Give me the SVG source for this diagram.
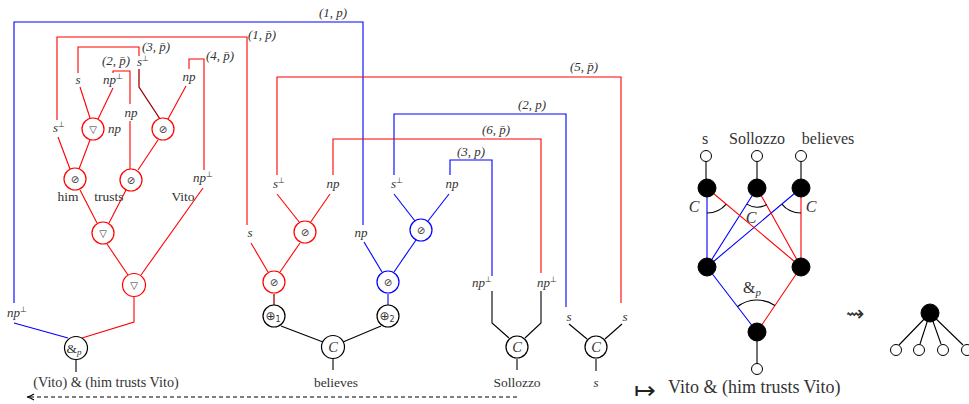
<svg xmlns="http://www.w3.org/2000/svg" width="969" height="404" viewBox="0 0 969 404">
<style>
.r{stroke:#f00;fill:none;stroke-width:1.1}
.b{stroke:#00f;fill:none;stroke-width:1.1}
.k{stroke:#000;fill:none;stroke-width:1.1}
.dr{stroke:#a00000;fill:none;stroke-width:1.3}
.nr circle{stroke:#f00;fill:#fff;stroke-width:1.2}
.nb circle{stroke:#00f;fill:#fff;stroke-width:1.2}
.nk circle{stroke:#000;fill:#fff;stroke-width:1.2}
.sym{font-family:"DejaVu Sans",sans-serif;font-size:10px;fill:#333;text-anchor:middle}
.m{font-family:"Liberation Serif",serif;font-style:italic;font-size:13px;fill:#333}
.c{text-anchor:middle}
.rm{font-family:"Liberation Serif",serif;font-size:13.5px;fill:#333}
.big{font-family:"Liberation Serif",serif;font-size:16px;fill:#333}
.sup{font-family:"DejaVu Sans",sans-serif;font-style:normal;font-size:8px}
.arr{font-family:"DejaVu Sans",sans-serif;font-weight:200;fill:#222;text-anchor:middle}
.fb{fill:#000;stroke:#000}
.ho{fill:#fff;stroke:#000;stroke-width:1}
</style>

<g id="connectors">
  <path class="b" d="M14,303 V22 H363 V225"/>
  <path class="b" d="M14,323 L68,338"/>
  <path class="r" d="M57,120 V37 H247 V225"/>
  <path class="r" d="M78,73 V47 H139 V56"/>
  <path class="r" d="M113,73 V71 H130 V104"/>
  <path class="r" d="M189,69 V59 H204 V170"/>
  <path class="dr" d="M139,69 V87 L160,119"/>
  <path class="r" d="M80,87 L90,118"/>
  <path class="r" d="M113,88 L98,119"/>
  <path class="r" d="M186,86 L168,119"/>
  <path class="r" d="M58,137 L70,169"/>
  <path class="r" d="M90,140 L79,169"/>
  <path class="r" d="M130,121 V169"/>
  <path class="r" d="M158,140 L138,170"/>
  <path class="r" d="M80,190 L97,223"/>
  <path class="r" d="M126,190 L109,223"/>
  <path class="r" d="M203,188 L141,275"/>
  <path class="r" d="M107,244 L128,275"/>
  <path class="r" d="M134,297 V322 L82,338"/>
  <path class="k" d="M76,360 V372"/>
  <path class="r" d="M277,175 V77 H621 V303"/>
  <path class="b" d="M394,175 V114 H566 V307"/>
  <path class="r" d="M333,175 V139 H541 V273"/>
  <path class="b" d="M450,175 V160 H492 V276"/>
  <path class="r" d="M277,194 L300,223"/>
  <path class="r" d="M330,194 L310,223"/>
  <path class="r" d="M251,243 L268,272"/>
  <path class="r" d="M300,243 L280,272"/>
  <path class="dr" d="M274,294 V305"/>
  <path class="b" d="M394,194 L415,221"/>
  <path class="b" d="M449,194 L428,221"/>
  <path class="b" d="M364,242 L382,272"/>
  <path class="b" d="M416,240 L394,272"/>
  <path class="b" d="M388,294 V305"/>
  <path class="k" d="M281,326 L323,342"/>
  <path class="k" d="M381,326 L343,342"/>
  <path class="k" d="M333,359 V370"/>
  <path class="k" d="M492,291 V323 L509,338"/>
  <path class="k" d="M541,291 V323 L525,338"/>
  <path class="k" d="M517,359 V370"/>
  <path class="k" d="M569,324 L587,339"/>
  <path class="k" d="M622,324 L605,339"/>
  <path class="k" d="M596,359 V371"/>
  <path class="k" d="M517,397 H29" stroke-dasharray="4,3"/>
  <path class="k" d="M34,394 Q30,396.5 27,397 Q30,397.5 34,400"/>
  <path class="k" d="M706,161 V180 M757,161 V180 M801,161 V180 M757,341 V364"/>
  <path class="b" d="M707,188 V267 M757,188 L707,267 M801,188 L707,267 M707,267 L757,332"/>
  <path class="r" d="M707,188 L801,267 M757,188 L801,267 M801,188 V267 M801,267 L757,332"/>
  <path class="k" d="M707,213 A25,25 0 0 0 726.2,204.1"/>
  <path class="k" d="M766.8,204.5 A19,19 0 0 1 746.9,204.1"/>
  <path class="k" d="M781.8,204.1 A25,25 0 0 0 801,213"/>
  <path class="k" d="M737.3,306.8 A32,32 0 0 1 774.9,305.5"/>
  <path class="k" d="M930,313 L899,345 M930,313 L920,344 M930,313 L941,344 M930,313 L963,345"/>
</g>

<g id="n_nabla1" class="nr"><circle cx="93" cy="129" r="11"/><text class="sym" x="93" y="133">▽</text></g>
<g id="n_oslash1" class="nr"><circle cx="163" cy="129" r="11"/><text class="sym" x="163" y="133">⊘</text></g>
<g id="n_him" class="nr"><circle cx="75" cy="179" r="11"/><text class="sym" x="75" y="183">⊘</text></g>
<g id="n_trusts" class="nr"><circle cx="131" cy="180" r="11"/><text class="sym" x="131" y="184">⊘</text></g>
<g id="n_nabla2" class="nr"><circle cx="103" cy="233" r="11"/><text class="sym" x="103" y="237">▽</text></g>
<g id="n_nabla3" class="nr"><circle cx="134" cy="285" r="11.5"/><text class="sym" x="134" y="289">▽</text></g>
<g id="n_and" class="nk"><circle cx="76" cy="348" r="11.5"/><text class="rm" x="66.5" y="352.5">&amp;<tspan class="m" style="font-size:9px" dy="2">p</tspan></text></g>

<g id="n_os_r1" class="nr"><circle cx="305" cy="232" r="11"/><text class="sym" x="305" y="236">⊘</text></g>
<g id="n_os_b1" class="nb"><circle cx="421" cy="230" r="11"/><text class="sym" x="421" y="234">⊘</text></g>
<g id="n_os_r2" class="nr"><circle cx="274" cy="282" r="11"/><text class="sym" x="274" y="286">⊘</text></g>
<g id="n_os_b2" class="nb"><circle cx="388" cy="282" r="11"/><text class="sym" x="388" y="286">⊘</text></g>
<g id="n_plus1" class="nk"><circle cx="274" cy="316" r="11"/><text class="sym" x="273" y="320" style="font-size:12px">⊕<tspan style="font-size:8px" dy="2">1</tspan></text></g>
<g id="n_plus2" class="nk"><circle cx="388" cy="316" r="11"/><text class="sym" x="387" y="320" style="font-size:12px">⊕<tspan style="font-size:8px" dy="2">2</tspan></text></g>
<g id="n_C1" class="nk"><circle cx="333" cy="347" r="11.5"/><text class="m c" x="333" y="352" style="font-size:14.5px">C</text></g>
<g id="n_C2" class="nk"><circle cx="517" cy="347" r="11"/><text class="m c" x="517" y="352" style="font-size:14.5px">C</text></g>
<g id="n_C3" class="nk"><circle cx="596" cy="347" r="11"/><text class="m c" x="596" y="352" style="font-size:14.5px">C</text></g>

<g id="labels">
<text class="m" x="319" y="17">(1, p)</text>
<text class="m" x="248" y="39">(1, p̄)</text>
<text class="m" x="142" y="51">(3, p̄)</text>
<text class="m" x="102" y="65">(2, p̄)</text>
<text class="m" x="206" y="60">(4, p̄)</text>
<text class="m c" x="78" y="84">s</text>
<text class="m" x="103" y="84">np<tspan class="sup" dy="-5">⊥</tspan></text>
<text class="m" x="137" y="66">s<tspan class="sup" dy="-5">⊥</tspan></text>
<text class="m c" x="189" y="81">np</text>
<text class="m" x="108" y="133">np</text>
<text class="m c" x="131" y="117">np</text>
<text class="m" x="53" y="132">s<tspan class="sup" dy="-5">⊥</tspan></text>
<text class="m" x="193" y="182">np<tspan class="sup" dy="-5">⊥</tspan></text>
<text class="m" x="7" y="317">np<tspan class="sup" dy="-5">⊥</tspan></text>
<text class="rm c" x="68" y="201">him</text>
<text class="rm c" x="109" y="201">trusts</text>
<text class="rm c" x="183" y="201">Vito</text>
<text class="rm c" x="106" y="387" style="font-size:14.2px">(Vito) &amp; (him trusts Vito)</text>
<text class="m" x="273" y="188">s<tspan class="sup" dy="-5">⊥</tspan></text>
<text class="m c" x="333" y="188">np</text>
<text class="m" x="391" y="188">s<tspan class="sup" dy="-5">⊥</tspan></text>
<text class="m c" x="452" y="188">np</text>
<text class="m c" x="250" y="237">s</text>
<text class="m c" x="361" y="237">np</text>
<text class="m" x="457" y="156">(3, p)</text>
<text class="m" x="482" y="134">(6, p̄)</text>
<text class="m" x="518" y="109">(2, p)</text>
<text class="m" x="570" y="71">(5, p̄)</text>
<text class="m" x="472" y="287">np<tspan class="sup" dy="-5">⊥</tspan></text>
<text class="m" x="537" y="287">np<tspan class="sup" dy="-5">⊥</tspan></text>
<text class="m c" x="569" y="321">s</text>
<text class="m c" x="625" y="321">s</text>
<text class="rm c" x="336" y="387">believes</text>
<text class="rm c" x="517" y="387">Sollozzo</text>
<text class="m c" x="596" y="387">s</text>
<text class="arr" x="645" y="399" style="font-size:26px">↦</text>
<text class="big" x="668" y="393" style="font-size:18px">Vito &amp; (him trusts Vito)</text>
<text class="big c" x="705" y="144">s</text>
<text class="big c" x="757" y="144">Sollozzo</text>
<text class="big c" x="828" y="144">believes</text>
<text class="m c" x="694" y="212" style="font-size:16px">C</text>
<text class="m c" x="751" y="223" style="font-size:16px">C</text>
<text class="m c" x="811" y="212" style="font-size:16px">C</text>
<text class="big c" x="752" y="293">&amp;<tspan class="m" style="font-size:11px" dy="3">p</tspan></text>
<text class="arr" x="855" y="321" style="font-size:22px;fill:#333">⇝</text>
</g>

<g id="g_top_s"><circle class="ho" cx="706" cy="156" r="5.5"/></g>
<g id="g_top_sollozzo"><circle class="ho" cx="757" cy="156" r="5.5"/></g>
<g id="g_top_believes"><circle class="ho" cx="801" cy="156" r="5.5"/></g>
<g id="g_C1"><circle class="fb" cx="707" cy="188" r="9"/></g>
<g id="g_C2"><circle class="fb" cx="757" cy="188" r="9"/></g>
<g id="g_C3"><circle class="fb" cx="801" cy="188" r="9"/></g>
<g id="g_L"><circle class="fb" cx="707" cy="267" r="9"/></g>
<g id="g_R"><circle class="fb" cx="801" cy="267" r="9"/></g>
<g id="g_and"><circle class="fb" cx="757" cy="332" r="9"/></g>
<g id="g_root"><circle class="ho" cx="757" cy="369" r="5.5"/></g>
<g id="t_center"><circle class="fb" cx="930" cy="313" r="9"/></g>
<g id="t_leaf1"><circle class="ho" cx="896" cy="350" r="5.5"/></g>
<g id="t_leaf2"><circle class="ho" cx="919" cy="350" r="5.5"/></g>
<g id="t_leaf3"><circle class="ho" cx="943" cy="350" r="5.5"/></g>
<g id="t_leaf4"><circle class="ho" cx="967" cy="350" r="5.5"/></g>
</svg>
